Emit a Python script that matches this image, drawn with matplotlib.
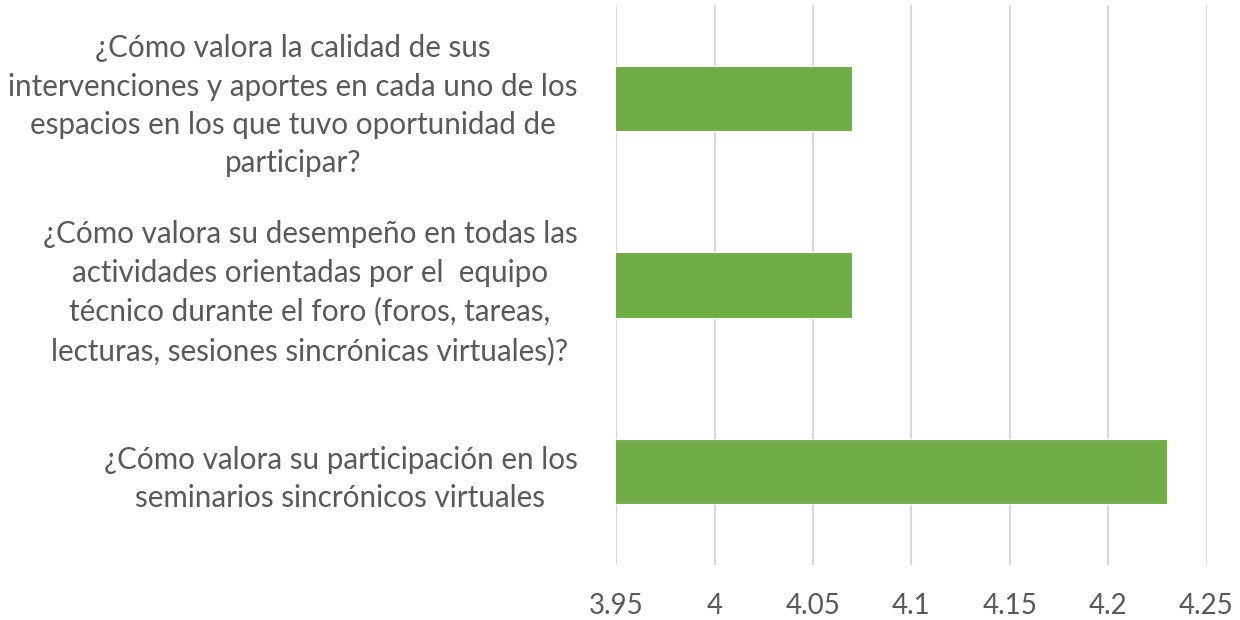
import matplotlib.pyplot as plt

# preguntas (de abajo hacia arriba) y promedio de valoracion
preguntas = [
    "¿Cómo valora su participación en los\nseminarios sincrónicos virtuales",
    "¿Cómo valora su desempeño en todas las\nactividades orientadas por el  equipo\ntécnico durante el foro (foros, tareas,\nlecturas, sesiones sincrónicas virtuales)?",
    "¿Cómo valora la calidad de sus\nintervenciones y aportes en cada uno de los\nespacios en los que tuvo oportunidad de\nparticipar?",
]
valores = [4.23, 4.07, 4.07]
ticks = [3.95, 4, 4.05, 4.1, 4.15, 4.2, 4.25]
etiquetas_x = ["3.95", "4", "4.05", "4.1", "4.15", "4.2", "4.25"]

gris = "#595959"
plt.rcParams['font.family'] = ['Lato', 'DejaVu Sans']

fig = plt.figure(figsize=(12.4, 6.2), dpi=100)
ax = fig.add_axes([0.497, 0.089, 0.476, 0.903])

pos = range(len(preguntas))
ax.barh(pos, valores, height=0.35, color="#70AD47", edgecolor="white", linewidth=0.8, zorder=3)

ax.set_xlim(3.95, 4.25)
ax.set_ylim(-0.5, 2.5)
ax.set_xticks(ticks)
ax.set_xticklabels(etiquetas_x, fontsize=20, color=gris)
ax.set_yticks(list(pos))
ax.set_yticklabels(preguntas, fontsize=21.3, color=gris, multialignment="center", linespacing=1.45)

ax.grid(axis="x", color="#d9d9d9", linewidth=1.5, zorder=0)
for s in ax.spines.values():
    s.set_visible(False)
ax.tick_params(axis="both", length=0)
ax.tick_params(axis="x", pad=20)
ax.tick_params(axis="y", pad=28)

plt.savefig("out.png")
